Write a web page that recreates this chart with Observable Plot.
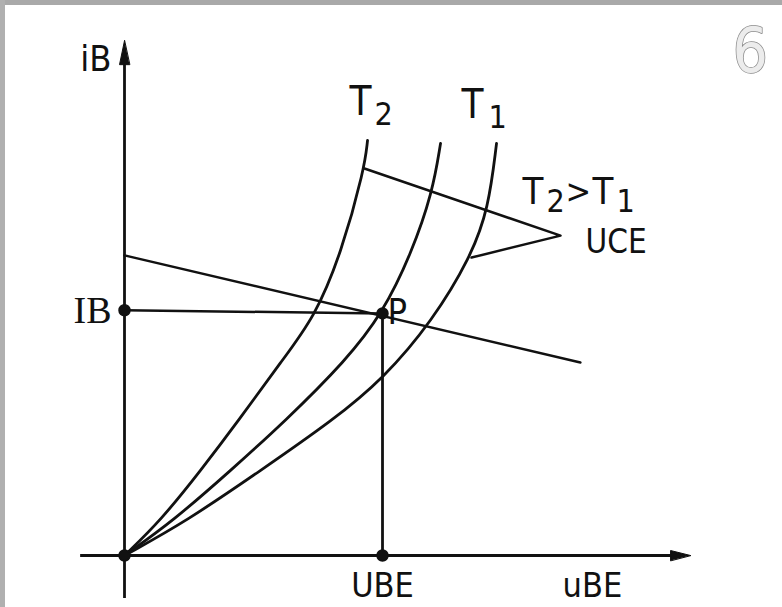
<!DOCTYPE html>
<html>
<head>
<meta charset="utf-8">
<script src="https://cdn.jsdelivr.net/npm/d3@7"></script>
<script src="https://cdn.jsdelivr.net/npm/@observablehq/plot@0.6"></script>
<style>
  html, body { margin: 0; padding: 0; background: #fff; }
  #wrap { position: relative; width: 782px; height: 607px; overflow: hidden; }
  #wrap svg { position: absolute; left: 0; top: 0; }
  .edgeTop { position: absolute; left: 0; top: 0; width: 782px; height: 5px; background: #a9a9a9; }
  .edgeLeft { position: absolute; left: 0; top: 0; width: 5px; height: 607px; background: #b0b0b0; }
</style>
</head>
<body>
<div id="wrap"><div class="edgeTop"></div><div class="edgeLeft"></div></div>
<script>
// ---- data (abstract units: uBE horizontally, iB vertically; operating point P = (100, ~99)) ----
const curveT2 = [
  [0, 0], [14.0, 14.3], [29.5, 34.8], [44.2, 55.3], [61.0, 79.9],
  [73.6, 97.5], [84.0, 123.8], [93.0, 158.6], [94.2, 170.1]
];
const curveMid = [
  [0, 0], [19.0, 14.3], [41.1, 34.8], [62.5, 55.3], [85.8, 79.9],
  [100, 99.2], [111.2, 123.8], [119.4, 148.8], [122.5, 168.9]
];
const curveT1 = [
  [0, 0], [24.4, 14.3], [52.7, 34.8], [80.6, 55.3], [100.4, 72.5],
  [119.4, 96.3], [134.1, 122.1], [141.1, 142.2], [144.2, 168.9]
];
const loadLine = [[0, 123.0], [176.7, 79.1]];
const uceMarker = [[93.0, 158.6], [169.0, 131.1], [134.5, 122.1]];
const xAxisExtent = [-17, 219.4];
const yAxisExtent = [-17.6, 211];
const IB = 100.5;
const P = [100, 99.2];
const UBE = 100;
const dotPoints = [[0, 0], [0, IB], P, [UBE, 0]];

// ---- scales: map units to the page ----
const X = {domain: [0, 100], range: [124, 382]};
const Y = {domain: [0, 100], range: [555, 311]};

const font = "'Liberation Sans Narrow', 'DejaVu Sans Condensed', sans-serif";
const serif = "'Liberation Serif', 'DejaVu Serif', serif";
const ink = "#111";

const arrowHead = {
  draw(ctx, l, r) {
    ctx.moveTo(0, -l);
    ctx.lineTo(-r, 0);
    ctx.lineTo(r, 0);
    ctx.closePath();
  }
};

const curveMarks = [curveT2, curveMid, curveT1].map(c =>
  Plot.line(c, {x: d => d[0], y: d => d[1], curve: "basis", stroke: ink, strokeWidth: 2.8})
);

const last = a => a[a.length - 1];
const txt = (s, at, o) => Plot.text([s], {x: at[0], y: at[1], fill: ink, lineAnchor: "bottom", textAnchor: "start", fontFamily: font, ...o});

const chart = Plot.plot({
  width: 782,
  height: 607,
  margin: 0,
  x: {...X, axis: null},
  y: {...Y, axis: null},
  style: {background: "transparent", fontFamily: font},
  marks: [
    // axes
    Plot.ruleY([0], {x1: xAxisExtent[0], x2: xAxisExtent[1] - 6, stroke: ink, strokeWidth: 2.8}),
    Plot.ruleX([0], {y1: yAxisExtent[0], y2: yAxisExtent[1] - 6, stroke: ink, strokeWidth: 2.8}),
    Plot.vector([[xAxisExtent[1], 0]], {x: d => d[0], y: d => d[1], length: 20, rotate: 90, anchor: "end", shape: arrowHead, r: 5, fill: ink, stroke: ink, strokeWidth: 1}),
    Plot.vector([[0, yAxisExtent[1]]], {x: d => d[0], y: d => d[1], length: 24, rotate: 0, anchor: "end", shape: arrowHead, r: 5, fill: ink, stroke: ink, strokeWidth: 1}),
    // curves
    ...curveMarks,
    // load line and UCE marker
    Plot.line(loadLine, {x: d => d[0], y: d => d[1], stroke: ink, strokeWidth: 2.5}),
    Plot.line(uceMarker, {x: d => d[0], y: d => d[1], stroke: ink, strokeWidth: 2.5}),
    // projections of P
    Plot.line([[0, IB], P], {x: d => d[0], y: d => d[1], stroke: ink, strokeWidth: 2.5}),
    Plot.ruleX([UBE], {y1: 0, y2: P[1], stroke: ink, strokeWidth: 2.8}),
    // dots
    Plot.dot(dotPoints, {x: d => d[0], y: d => d[1], r: 5.5, fill: ink, stroke: ink}),
    // axis labels
    txt("iB", [0, yAxisExtent[1]], {dx: -13, dy: 30, fontSize: 36, textAnchor: "end", letterSpacing: 2}),
    txt("IB", [0, IB], {dx: -13, dy: 13, fontSize: 38, textAnchor: "end", fontFamily: serif}),
    txt("P", P, {dx: 5, dy: 11, fontSize: 36}),
    txt("UBE", [UBE, 0], {dy: 41, fontSize: 34, textAnchor: "middle"}),
    txt("uBE", [xAxisExtent[1], 0], {dx: -128, dy: 41, fontSize: 34}),
    // T2 / T1 labels above curves
    txt("T", last(curveT2), {dx: -18, dy: -25, fontSize: 40}),
    txt("2", last(curveT2), {dx: 7, dy: -15, fontSize: 32}),
    txt("T", last(curveT1), {dx: -35, dy: -25, fontSize: 40}),
    txt("1", last(curveT1), {dx: -8, dy: -15, fontSize: 32}),
    // T2 > T1 and UCE labels next to the marker tip
    txt("T", uceMarker[1], {dx: -38, dy: -32, fontSize: 38}),
    txt("2", uceMarker[1], {dx: -14, dy: -24, fontSize: 32}),
    txt(">", uceMarker[1], {dx: 5, dy: -33, fontSize: 34}),
    txt("T", uceMarker[1], {dx: 32, dy: -32, fontSize: 38}),
    txt("1", uceMarker[1], {dx: 56, dy: -24, fontSize: 32}),
    txt("UCE", uceMarker[1], {dx: 25, dy: 17, fontSize: 33}),
    // page number
    txt("6", [xAxisExtent[1], yAxisExtent[1]], {dx: 42, dy: 31, fontSize: 62, fill: "#ececec", stroke: "#8a8a8a", strokeWidth: 1.5})
  ]
});

document.getElementById("wrap").appendChild(chart);
</script>
</body>
</html>
